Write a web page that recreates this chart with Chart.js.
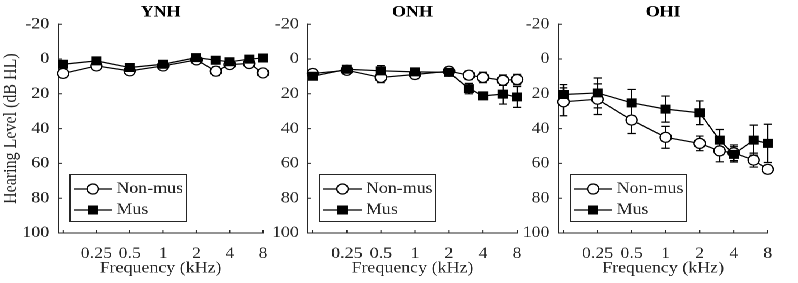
<!DOCTYPE html>
<html>
<head>
<meta charset="utf-8">
<script src="https://cdn.jsdelivr.net/npm/chart.js@4.4.1/dist/chart.umd.min.js"></script>
<style>
  html, body { margin: 0; padding: 0; background: #fff; }
  #wrap { position: absolute; left: 0; top: 0; width: 713px; height: 283px; transform: scaleX(1.1192); transform-origin: 0 0; }
  .panel { position: absolute; top: 0; width: 250px; height: 283px; }
</style>
</head>
<body>
<div id="wrap">
  <div class="panel" style="left:0px"><canvas id="ynhChart"></canvas></div>
  <div class="panel" style="left:240px"><canvas id="onhChart"></canvas></div>
  <div class="panel" style="left:464px"><canvas id="ohiChart"></canvas></div>
</div>
<script>
const freqs = [0.125, 0.25, 0.5, 1, 2, 3, 4, 6, 8];
const freqTicks = [0.125, 0.25, 0.5, 1, 2, 4, 8];
const freqLabels = ['', '0.25', '0.5', '1', '2', '4', '8'];
const levelTicks = [-20, 0, 20, 40, 60, 80, 100];
const seriesNames = ['Non-mus', 'Mus'];

// YNH
const ynhNonMus = [8.3, 4, 6.8, 4, 0.5, 7, 3.2, 2.6, 8];
const ynhNonMusErr = [2, 1.5, 2, 1.5, 1.5, 2.5, 1.5, 1.5, 2];
const ynhMus = [3, 1.1, 4.9, 3, -0.8, 0.7, 1.6, 0.1, -0.6];
const ynhMusErr = [1.5, 1.5, 1.5, 1.5, 1.5, 1.5, 1.5, 1.5, 1];

// ONH
const onhNonMus = [8.3, 6.5, 10.6, 8.9, 7, 9.3, 10.6, 12.2, 11.8];
const onhNonMusErr = [1.5, 1.5, 3, 1.5, 1.5, 2.5, 3, 3, 3];
const onhMus = [9.9, 5.9, 6.8, 7.4, 7.7, 17, 21.2, 20.2, 21.8];
const onhMusErr = [1.5, 1.5, 3, 1.5, 1.5, 3, 1.5, 5.7, 6];

// OHI
const ohiNonMus = [24.6, 23.1, 35.1, 45, 48.5, 52.8, 53.9, 58.1, 63.4];
const ohiNonMusErr = [8, 8.8, 7.7, 6.3, 4.2, 6.3, 4.5, 4, 2];
const ohiMus = [20.4, 19.5, 25.2, 28.8, 30.9, 46.6, 54.8, 46.6, 48.5];
const ohiMusErr = [5.7, 8.6, 7.7, 7.5, 6.8, 6.1, 4.4, 8.6, 11];

const axisColor = '#262626';
Chart.defaults.font.family = '"Liberation Serif", "Times New Roman", serif';
Chart.defaults.font.size = 16;
Chart.defaults.color = axisColor;

function points(values) {
  return freqs.map((f, i) => ({ x: f, y: values[i] }));
}

// error bars, inside ticks and the boxed legend
const audiogramPlugin = {
  id: 'audiogram',
  beforeDatasetsDraw(chart) {
    const ctx = chart.ctx;
    const xs = chart.scales.x, ys = chart.scales.y;
    ctx.save();
    ctx.strokeStyle = '#000';
    ctx.lineWidth = 1.2;
    chart.data.datasets.forEach(ds => {
      ds.data.forEach((p, i) => {
        const e = ds.errorBars[i];
        const x = xs.getPixelForValue(p.x);
        const y1 = ys.getPixelForValue(p.y - e);
        const y2 = ys.getPixelForValue(p.y + e);
        ctx.beginPath();
        ctx.moveTo(x, y1); ctx.lineTo(x, y2);
        ctx.moveTo(x - 3.6, y1); ctx.lineTo(x + 3.6, y1);
        ctx.moveTo(x - 3.6, y2); ctx.lineTo(x + 3.6, y2);
        ctx.stroke();
      });
    });
    // inside tick marks
    const ca = chart.chartArea;
    ctx.strokeStyle = axisColor;
    ctx.lineWidth = 1;
    ctx.beginPath();
    freqTicks.forEach(v => {
      const x = xs.getPixelForValue(v);
      ctx.moveTo(x, ca.bottom); ctx.lineTo(x, ca.bottom - 3);
    });
    levelTicks.forEach(v => {
      const y = ys.getPixelForValue(v);
      ctx.moveTo(ca.left, y); ctx.lineTo(ca.left + 3, y);
    });
    ctx.stroke();
    ctx.restore();
  },
  afterDraw(chart) {
    const ctx = chart.ctx;
    const ca = chart.chartArea;
    const bx = ca.left + 10, by = 174, bw = 104, bh = 47;
    ctx.save();
    ctx.fillStyle = '#fff';
    ctx.fillRect(bx, by, bw, bh);
    ctx.strokeStyle = axisColor;
    ctx.lineWidth = 1;
    ctx.strokeRect(bx + 0.5, by + 0.5, bw, bh);
    chart.data.datasets.forEach((ds, k) => {
      const y = by + 15 + k * 21;
      ctx.strokeStyle = '#000';
      ctx.lineWidth = 1.2;
      ctx.beginPath();
      ctx.moveTo(bx + 4, y); ctx.lineTo(bx + 38, y);
      ctx.stroke();
      const mx = bx + 21;
      ctx.beginPath();
      if (ds.pointStyle === 'circle') {
        ctx.arc(mx, y, ds.pointRadius, 0, Math.PI * 2);
      } else {
        const s = ds.pointRadius * Math.SQRT1_2;
        ctx.rect(mx - s, y - s, 2 * s, 2 * s);
      }
      ctx.fillStyle = ds.pointBackgroundColor;
      ctx.fill();
      ctx.stroke();
      ctx.fillStyle = axisColor;
      ctx.font = '16px "Liberation Serif", serif';
      ctx.textBaseline = 'middle';
      ctx.textAlign = 'left';
      ctx.fillText(ds.label, bx + 42, y);
    });
    ctx.restore();
  }
};

function makeChart(id, title, nonMus, nonMusErr, mus, musErr, yWidth, padRight, showYTitle) {
  const ctx = document.getElementById(id).getContext('2d');
  return new Chart(ctx, {
    type: 'line',
    data: {
      datasets: [
        {
          label: seriesNames[0],
          data: points(nonMus),
          errorBars: nonMusErr,
          borderColor: '#000',
          borderWidth: 1.2,
          pointStyle: 'circle',
          pointRadius: 5,
          pointBackgroundColor: '#fff',
          pointBorderColor: '#000',
          pointBorderWidth: 1.2,
          tension: 0,
          clip: false,
          order: 1
        },
        {
          label: seriesNames[1],
          data: points(mus),
          errorBars: musErr,
          borderColor: '#000',
          borderWidth: 1.2,
          pointStyle: 'rect',
          pointRadius: 5.5,
          pointBackgroundColor: '#000',
          pointBorderColor: '#000',
          pointBorderWidth: 1.2,
          tension: 0,
          clip: false,
          order: 0
        }
      ]
    },
    options: {
      responsive: true,
      maintainAspectRatio: false,
      animation: false,
      devicePixelRatio: 2,
      layout: { padding: { left: 0, right: padRight, top: 0, bottom: 0 } },
      scales: {
        x: {
          type: 'logarithmic',
          min: 0.1128,
          max: 8,
          grid: { display: false, drawTicks: false },
          border: { display: true, color: axisColor, width: 1 },
          afterBuildTicks: s => { s.ticks = freqTicks.map(v => ({ value: v })); },
          afterFit: s => { s.height = 50; },
          ticks: {
            autoSkip: false,
            maxRotation: 0,
            padding: 11,
            callback: v => freqLabels[freqTicks.indexOf(v)] || ''
          },
          title: { display: true, text: 'Frequency (kHz)', padding: { top: 0, bottom: 5 } }
        },
        y: {
          type: 'linear',
          reverse: true,
          min: -20,
          max: 100,
          grid: { display: false, drawTicks: false },
          border: { display: true, color: axisColor, width: 1 },
          afterBuildTicks: s => { s.ticks = levelTicks.map(v => ({ value: v })); },
          afterFit: s => { s.width = yWidth; },
          ticks: { padding: 8 },
          title: { display: showYTitle, text: 'Hearing Level (dB HL)', padding: { top: 0, bottom: 0 } }
        }
      },
      plugins: {
        legend: { display: false },
        tooltip: { enabled: false },
        title: {
          display: true,
          text: title,
          fullSize: false,
          color: '#000',
          font: { size: 16, weight: 'bold' },
          padding: { top: 3, bottom: 2 }
        }
      }
    },
    plugins: [audiogramPlugin]
  });
}

makeChart('ynhChart', 'YNH', ynhNonMus, ynhNonMusErr, ynhMus, ynhMusErr, 52, 11, true);
makeChart('onhChart', 'ONH', onhNonMus, onhNonMusErr, onhMus, onhMusErr, 35, 28, false);
makeChart('ohiChart', 'OHI', ohiNonMus, ohiNonMusErr, ohiMus, ohiMusErr, 35, 28, false);
</script>
</body>
</html>
